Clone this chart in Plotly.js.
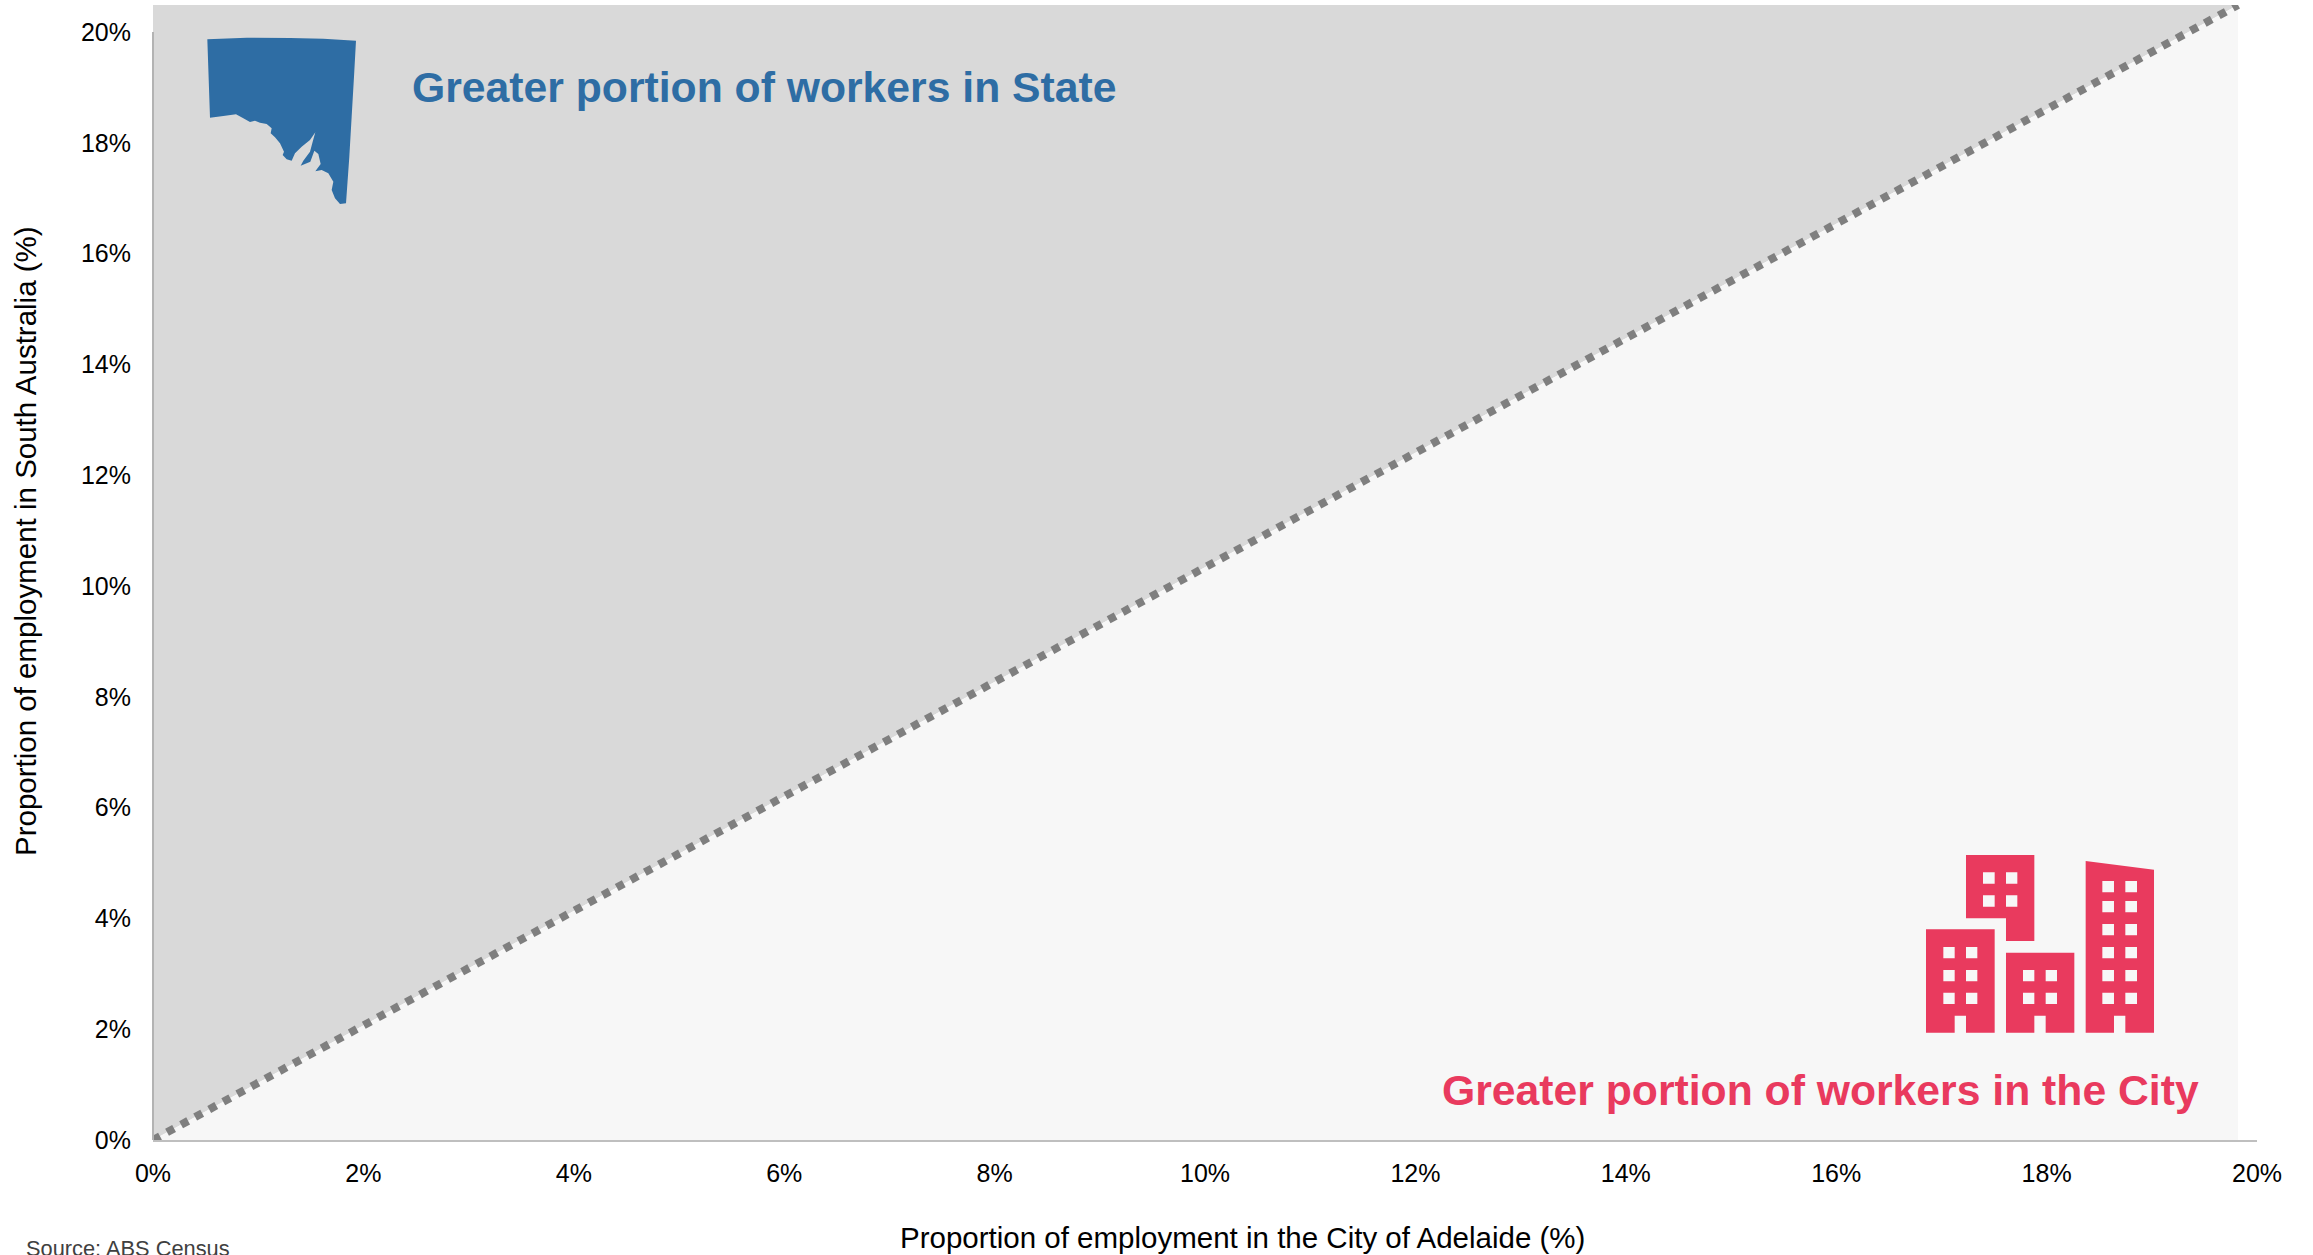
<!DOCTYPE html>
<html><head><meta charset="utf-8">
<script src="https://cdn.plot.ly/plotly-3.0.1.min.js"></script>
<style>html,body{margin:0;padding:0;background:#fff;overflow:hidden}</style>
</head><body><div id="chart" style="width:2313px;height:1255px"></div>
<script>
const tickValues = [0,2,4,6,8,10,12,14,16,18,20];
const tickLabels = ['0%','2%','4%','6%','8%','10%','12%','14%','16%','18%','20%'];
const parityX = [0, 19.82];
const parityY = [0, 20.487];
const stateRegionX = [0, 0, 19.82, 0];
const stateRegionY = [0, 20.487, 20.487, 0];
const cityRegionX = [0, 19.82, 19.82, 0];
const cityRegionY = [0, 20.487, 0, 0];

const W=2313,H=1255,L=153,R=2257,T=5,B=1140;
const toPaperX=p=>(p-L)/(R-L), toPaperY=p=>(B-p)/(B-T);
function pathFrom(polys,ox,oy,s){
  return polys.map(poly=>{
    let d='';
    for(let i=0;i<poly.length;i+=2){
      d+=(i?'L':'M')+toPaperX(ox+poly[i]/s).toFixed(5)+','+toPaperY(oy+poly[i+1]/s).toFixed(5);
    }
    return d+'Z';
  }).join('');
}
function rect(x0,y0,x1,y1){return [x0,y0,x1,y0,x1,y1,x0,y1];}
const saOutline=[[232,118,350,113,480,114,580,116,678,122,672,230,665,350,658,470,648,610,630,612,615,595,605,570,610,545,595,520,575,510,556,514,572,492,565,462,553,452,541,485,512,497,520,482,540,455,548,425,556,397,540,420,515,440,495,460,485,482,470,478,458,465,462,455,450,430,435,412,422,400,425,385,410,372,390,368,375,362,360,366,340,355,318,343,280,348,240,353]];
function windows(cols,rows){const o=[];rows.forEach(r=>cols.forEach(c=>o.push(rect(c[0],r[0],c[1],r[1]))));return o;}
const cityIcon=[
 [78,268,284,268,284,578,198,578,198,527,164,527,164,578,78,578],
 ...windows([[130,164],[198,232]],[[321,355],[390,424],[458,492]]),
 [198,45,403,45,403,303,318,303,318,235,198,235],
 ...windows([[249,284],[318,352]],[[97,131],[166,200]]),
 [318,338,523,338,523,578,437,578,437,527,403,527,403,578,318,578],
 ...windows([[369,403],[437,471]],[[390,424],[458,492]]),
 [557,63,762,89,762,578,676,578,676,527,642,527,642,578,557,578],
 ...windows([[607,642],[676,711]],[[123,157],[183,217],[252,286],[321,355],[390,424],[458,492]])
];
const font='"Liberation Sans", Arial, sans-serif';
const traces=[
 {x:stateRegionX,y:stateRegionY,mode:'none',fill:'toself',fillcolor:'#d9d9d9',hoverinfo:'skip',showlegend:false},
 {x:cityRegionX,y:cityRegionY,mode:'none',fill:'toself',fillcolor:'#f7f7f7',hoverinfo:'skip',showlegend:false},
 {x:parityX,y:parityY,mode:'lines',line:{color:'#7f7f7f',width:8,dash:'8px,8px'},cliponaxis:false,hoverinfo:'skip',showlegend:false}
];
const ann=(text,x,y,size,color,extra)=>Object.assign({text,xref:'paper',yref:'paper',x:toPaperX(x),y:toPaperY(y),showarrow:false,font:{family:font,size,color},xanchor:'center',yanchor:'middle'},extra||{});
const layout={
 width:W,height:H,margin:{l:L,r:W-R,t:T,b:H-B,pad:0},paper_bgcolor:'#ffffff',plot_bgcolor:'rgba(0,0,0,0)',showlegend:false,
 font:{family:font,size:25,color:'#000'},
 xaxis:{range:[0,20],tickvals:tickValues,ticktext:tickLabels,showgrid:false,zeroline:false,showline:true,linecolor:'#bfbfbf',linewidth:2,ticks:'',ticklabelstandoff:10,tickfont:{family:font,size:25,color:'#000'},fixedrange:true},
 yaxis:{range:[0,20.487],tickvals:tickValues,ticktext:tickLabels,showgrid:false,zeroline:false,showline:false,ticks:'',ticklabelstandoff:21,tickfont:{family:font,size:25,color:'#000'},fixedrange:true},
 shapes:[
  {type:'line',xref:'paper',yref:'y',x0:0,x1:0,y0:0,y1:20,line:{color:'#b3b3b3',width:2},layer:'above'},
  {type:'path',xref:'paper',yref:'paper',path:pathFrom(saOutline,130,0,3),fillcolor:'#2e6da4',line:{width:0},layer:'above'},
  {type:'path',xref:'paper',yref:'paper',path:pathFrom(cityIcon,1900,840,3),fillcolor:'#e93a5e',line:{width:0},layer:'above'}
 ],
 annotations:[
  ann('Greater portion of workers in State',410,87,42.7,'#2e6da4',{xanchor:'left',font:{family:font,size:42.7,color:'#2e6da4',weight:700}}),
  ann('Greater portion of workers in the City',2201,1090,42.7,'#e93a5e',{xanchor:'right',font:{family:font,size:42.7,color:'#e93a5e',weight:700}}),
  ann('Proportion of employment in the City of Adelaide (%)',1242,1237,29.5,'#000'),
  ann('Proportion of employment in South Australia (%)',25,541,29.5,'#000',{textangle:-90}),
  ann('Source: ABS Census',24,1248,21.8,'#404040',{xanchor:'left'})
 ]
};
Plotly.newPlot('chart',traces,layout,{displayModeBar:false,staticPlot:true});
</script></body></html>
